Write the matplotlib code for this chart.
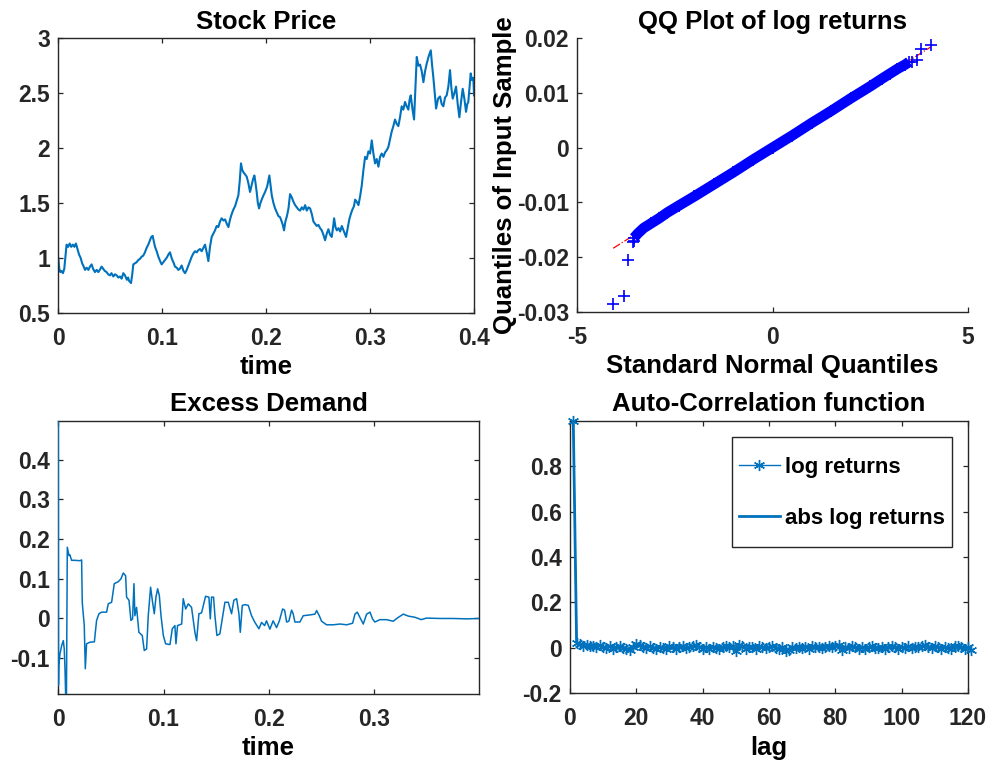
import numpy as np
import matplotlib
matplotlib.use("Agg")
import matplotlib.pyplot as plt
from matplotlib.patches import Rectangle

plt.rcParams['font.family'] = ['Liberation Sans', 'DejaVu Sans']
plt.rcParams['font.weight'] = 'bold'
plt.rcParams['axes.unicode_minus'] = False

# ---------------- data ----------------
stock_t = [0.0000, 0.0010, 0.0020, 0.0032, 0.0045, 0.0058, 0.0070, 0.0080, 0.0095, 0.0110,
           0.0125, 0.0140, 0.0155, 0.0170, 0.0185, 0.0200, 0.0215, 0.0230, 0.0245, 0.0258,
           0.0273, 0.0290, 0.0305, 0.0321, 0.0335, 0.0353, 0.0370, 0.0385, 0.0400, 0.0417,
           0.0432, 0.0448, 0.0465, 0.0480, 0.0497, 0.0512, 0.0530, 0.0546, 0.0562, 0.0578,
           0.0594, 0.0610, 0.0626, 0.0642, 0.0660, 0.0672, 0.0681, 0.0700, 0.0712, 0.0722,
           0.0738, 0.0754, 0.0770, 0.0786, 0.0802, 0.0818, 0.0834, 0.0850, 0.0866, 0.0883,
           0.0895, 0.0908, 0.0920, 0.0931, 0.0947, 0.0963, 0.0980, 0.0995, 0.1011, 0.1027,
           0.1043, 0.1060, 0.1075, 0.1090, 0.1098, 0.1112, 0.1123, 0.1140, 0.1155, 0.1170,
           0.1187, 0.1205, 0.1220, 0.1236, 0.1252, 0.1268, 0.1284, 0.1300, 0.1316, 0.1332,
           0.1348, 0.1364, 0.1380, 0.1396, 0.1412, 0.1428, 0.1444, 0.1460, 0.1476, 0.1492,
           0.1508, 0.1524, 0.1540, 0.1556, 0.1572, 0.1589, 0.1605, 0.1621, 0.1637, 0.1653,
           0.1669, 0.1685, 0.1701, 0.1717, 0.1733, 0.1746, 0.1758, 0.1770, 0.1781, 0.1797,
           0.1813, 0.1829, 0.1845, 0.1860, 0.1875, 0.1887, 0.1898, 0.1909, 0.1920, 0.1932,
           0.1945, 0.1957, 0.1970, 0.1990, 0.2010, 0.2031, 0.2043, 0.2054, 0.2070, 0.2086,
           0.2100, 0.2118, 0.2134, 0.2150, 0.2160, 0.2172, 0.2185, 0.2200, 0.2215, 0.2230,
           0.2247, 0.2263, 0.2279, 0.2295, 0.2311, 0.2327, 0.2343, 0.2359, 0.2375, 0.2391,
           0.2407, 0.2423, 0.2439, 0.2455, 0.2471, 0.2487, 0.2503, 0.2519, 0.2535, 0.2551,
           0.2567, 0.2583, 0.2599, 0.2615, 0.2631, 0.2643, 0.2654, 0.2667, 0.2680, 0.2696,
           0.2712, 0.2728, 0.2744, 0.2756, 0.2769, 0.2785, 0.2800, 0.2815, 0.2830, 0.2845,
           0.2856, 0.2872, 0.2888, 0.2904, 0.2920, 0.2936, 0.2952, 0.2968, 0.2984, 0.3000,
           0.3016, 0.3032, 0.3048, 0.3064, 0.3080, 0.3096, 0.3112, 0.3128, 0.3144, 0.3160,
           0.3176, 0.3192, 0.3208, 0.3224, 0.3240, 0.3256, 0.3272, 0.3288, 0.3304, 0.3320,
           0.3336, 0.3352, 0.3368, 0.3380, 0.3391, 0.3407, 0.3423, 0.3436, 0.3449, 0.3465,
           0.3481, 0.3497, 0.3513, 0.3529, 0.3545, 0.3565, 0.3584, 0.3597, 0.3609, 0.3622,
           0.3635, 0.3654, 0.3673, 0.3689, 0.3705, 0.3721, 0.3737, 0.3753, 0.3769, 0.3782,
           0.3795, 0.3811, 0.3827, 0.3843, 0.3859, 0.3875, 0.3891, 0.3907, 0.3923, 0.3935,
           0.3945, 0.3956, 0.3968, 0.3980, 0.3993, 0.4000]
stock_p = [1.00, 0.90, 0.87, 0.88, 0.86, 0.90, 1.02, 1.12, 1.10, 1.13,
           1.10, 1.12, 1.10, 1.13, 1.08, 1.03, 1.00, 0.95, 0.92, 0.89,
           0.91, 0.89, 0.92, 0.94, 0.90, 0.87, 0.89, 0.87, 0.89, 0.92,
           0.90, 0.88, 0.87, 0.85, 0.84, 0.86, 0.83, 0.85, 0.84, 0.82,
           0.83, 0.81, 0.86, 0.84, 0.80, 0.82, 0.79, 0.77, 0.85, 0.94,
           0.95, 0.96, 0.98, 0.99, 1.01, 1.02, 1.05, 1.09, 1.12, 1.16,
           1.19, 1.20, 1.15, 1.10, 1.06, 1.01, 0.97, 0.94, 0.96, 0.98,
           1.00, 1.03, 1.05, 1.00, 0.98, 0.95, 0.92, 0.91, 0.89, 0.90,
           0.93, 0.88, 0.86, 0.89, 0.93, 0.97, 1.01, 1.04, 1.06, 1.05,
           1.07, 1.08, 1.06, 1.09, 1.12, 1.05, 0.97, 1.10, 1.19, 1.22,
           1.25, 1.29, 1.28, 1.33, 1.36, 1.34, 1.35, 1.31, 1.28, 1.35,
           1.40, 1.44, 1.47, 1.52, 1.57, 1.70, 1.86, 1.80, 1.78, 1.76,
           1.74, 1.68, 1.60, 1.66, 1.72, 1.75, 1.68, 1.60, 1.50, 1.45,
           1.50, 1.53, 1.56, 1.60, 1.65, 1.75, 1.66, 1.57, 1.50, 1.45,
           1.42, 1.38, 1.37, 1.33, 1.30, 1.25, 1.33, 1.38, 1.45, 1.58,
           1.55, 1.51, 1.48, 1.46, 1.44, 1.43, 1.46, 1.44, 1.48, 1.43,
           1.46, 1.45, 1.40, 1.33, 1.31, 1.29, 1.30, 1.27, 1.25, 1.21,
           1.16, 1.22, 1.26, 1.21, 1.19, 1.27, 1.36, 1.28, 1.25, 1.27,
           1.24, 1.29, 1.25, 1.22, 1.19, 1.27, 1.35, 1.40, 1.44, 1.47,
           1.53, 1.51, 1.48, 1.56, 1.66, 1.80, 1.92, 1.90, 1.97, 1.95,
           2.07, 1.95, 1.86, 1.90, 1.83, 1.92, 1.95, 1.92, 1.96, 1.98,
           2.01, 2.08, 2.15, 2.20, 2.26, 2.22, 2.20, 2.28, 2.38, 2.35,
           2.42, 2.38, 2.35, 2.44, 2.48, 2.36, 2.26, 2.55, 2.83, 2.75,
           2.76, 2.70, 2.60, 2.70, 2.77, 2.84, 2.89, 2.75, 2.64, 2.50,
           2.36, 2.45, 2.47, 2.40, 2.38, 2.46, 2.48, 2.56, 2.71, 2.55,
           2.45, 2.50, 2.56, 2.40, 2.28, 2.42, 2.54, 2.45, 2.33, 2.40,
           2.42, 2.55, 2.68, 2.62, 2.64, 2.48]

qq_band_x = [-3.55, -3.45, -3.30, -3.10, -2.90, -2.70, -2.40, -2.00, -1.50, -1.00,
             -0.50, 0.00, 0.50, 1.00, 1.50, 2.00, 2.50, 2.80, 3.00, 3.20, 3.40, 3.50]
qq_band_y = [-0.0165, -0.0157, -0.0147, -0.0138, -0.0129, -0.0119, -0.0106, -0.0089, -0.0067, -0.0045,
             -0.0022, 0.0000, 0.0022, 0.0045, 0.0067, 0.0090, 0.0112, 0.0126, 0.0135, 0.0144, 0.0152, 0.0157]
qq_tail_x = [-4.08, -3.81, -3.70, -3.58, -3.55, 3.57, 3.69, 3.81, 4.05]
qq_tail_y = [-0.0286, -0.0272, -0.0206, -0.0173, -0.0170, 0.0157, 0.0161, 0.0180, 0.0188]
qq_ref_x = [-4.08, 4.05]
qq_ref_y = [-0.0184, 0.0184]

ed_t = [0.0000, 0.0002, 0.0005, 0.0016, 0.0032, 0.0048, 0.0057, 0.0064, 0.0070, 0.0078,
        0.0086, 0.0102, 0.0110, 0.0127, 0.0159, 0.0206, 0.0222, 0.0228, 0.0247, 0.0257,
        0.0269, 0.0301, 0.0343, 0.0364, 0.0387, 0.0412, 0.0459, 0.0475, 0.0507, 0.0532,
        0.0570, 0.0595, 0.0618, 0.0640, 0.0649, 0.0672, 0.0690, 0.0706, 0.0719, 0.0728,
        0.0744, 0.0766, 0.0798, 0.0817, 0.0839, 0.0855, 0.0877, 0.0896, 0.0912, 0.0928,
        0.0944, 0.0960, 0.0976, 0.0998, 0.1020, 0.1061, 0.1083, 0.1108, 0.1118, 0.1133,
        0.1172, 0.1187, 0.1210, 0.1235, 0.1266, 0.1298, 0.1314, 0.1336, 0.1361, 0.1399,
        0.1431, 0.1444, 0.1456, 0.1475, 0.1488, 0.1507, 0.1535, 0.1558, 0.1583, 0.1615,
        0.1646, 0.1668, 0.1694, 0.1716, 0.1729, 0.1748, 0.1773, 0.1805, 0.1836, 0.1868,
        0.1906, 0.1931, 0.1960, 0.1978, 0.2010, 0.2041, 0.2074, 0.2100, 0.2131, 0.2150,
        0.2169, 0.2190, 0.2216, 0.2230, 0.2248, 0.2295, 0.2327, 0.2390, 0.2438, 0.2454,
        0.2479, 0.2501, 0.2549, 0.2612, 0.2676, 0.2739, 0.2796, 0.2818, 0.2840, 0.2865,
        0.2897, 0.2929, 0.2961, 0.2985, 0.3007, 0.3055, 0.3118, 0.3182, 0.3220, 0.3277,
        0.3325, 0.3388, 0.3430, 0.3445, 0.3498, 0.3625, 0.3752, 0.3879, 0.3996]
ed_v = [0.499, -0.170, -0.120, -0.091, -0.070, -0.057, -0.078, -0.128, -0.192, -0.192,
        0.179, 0.158, 0.160, 0.146, 0.146, 0.145, 0.147, 0.040, -0.019, -0.128,
        -0.065, -0.061, -0.060, -0.006, 0.011, 0.015, 0.015, 0.036, 0.040, 0.087,
        0.092, 0.099, 0.114, 0.107, 0.053, 0.045, -0.006, -0.002, 0.087, 0.006,
        0.027, -0.036, -0.044, -0.082, -0.078, 0.006, 0.078, 0.040, 0.011, 0.053,
        0.074, 0.057, 0.006, -0.044, -0.065, -0.067, -0.027, -0.019, -0.065, -0.019,
        -0.015, 0.049, 0.023, 0.036, 0.027, -0.036, -0.057, 0.011, 0.013, 0.055,
        0.053, -0.002, 0.053, 0.053, 0.006, -0.044, -0.040, -0.002, 0.040, 0.040,
        0.011, 0.045, 0.049, 0.011, -0.036, 0.032, 0.034, 0.032, 0.006, -0.011,
        -0.027, -0.011, -0.019, -0.007, -0.028, -0.007, -0.024, -0.007, 0.023, 0.020,
        -0.010, -0.008, 0.020, 0.012, -0.010, -0.010, 0.006, 0.008, 0.010, 0.019,
        0.006, -0.008, -0.017, -0.017, -0.015, -0.017, -0.013, 0.010, 0.015, 0.002,
        -0.015, 0.010, 0.015, -0.002, -0.010, -0.004, -0.004, -0.008, 0.000, 0.010,
        0.005, 0.002, -0.002, -0.004, 0.000, -0.001, -0.001, -0.002, -0.001]

acf_log = [1.0, 0.020, 0.015, 0.010, 0.012, 0.008, 0.010, 0.005, 0.012, 0.004,
           0.000, 0.006, -0.004, 0.003, 0.008, 0.001, -0.006, -0.010, 0.004, 0.015,
           0.012, 0.005, -0.002, 0.008, 0.000, -0.005, 0.004, 0.001, -0.003, 0.006,
           0.002, -0.004, 0.003, 0.007, -0.002, 0.004, 0.009, 0.012, 0.003, -0.005,
           0.002, -0.006, 0.004, 0.001, -0.004, 0.005, 0.008, 0.003, 0.006, -0.012,
           0.012, 0.006, -0.003, 0.005, 0.002, -0.004, 0.008, 0.003, -0.002, 0.004,
           0.007, 0.001, -0.006, 0.002, -0.012, -0.008, 0.003, -0.002, 0.005, 0.001,
           0.004, -0.003, 0.006, 0.002, 0.005, -0.002, 0.004, 0.007, 0.003, 0.010,
           0.012, -0.010, 0.005, -0.002, 0.008, 0.004, -0.003, 0.002, -0.004, 0.003,
           0.006, -0.002, 0.001, 0.004, -0.003, 0.005, 0.008, 0.002, -0.004, 0.003,
           0.001, 0.006, -0.002, 0.004, 0.003, 0.009, 0.012, 0.004, -0.002, 0.006,
           0.002, -0.004, 0.003, 0.001, -0.005, 0.006, 0.008, 0.002, -0.003, 0.004,
           -0.010]
acf_abs = [1.0, 0.025, 0.012, 0.008, 0.014, 0.006, 0.011, 0.002, 0.009, 0.005,
           -0.002, 0.007, 0.001, -0.003, 0.006, 0.003, -0.004, -0.008, 0.006, 0.012,
           0.016, 0.008, 0.001, 0.005, -0.003, 0.002, 0.006, -0.001, 0.003, 0.005,
           -0.002, 0.001, 0.006, 0.002, -0.003, 0.005, 0.007, 0.010, 0.005, -0.002,
           0.004, -0.003, 0.001, 0.005, -0.002, 0.003, 0.006, 0.001, 0.008, -0.008,
           0.010, 0.008, -0.001, 0.003, 0.005, -0.002, 0.006, 0.001, 0.001, 0.002,
           0.005, 0.003, -0.004, -0.001, -0.009, -0.005, 0.002, 0.001, 0.003, -0.002,
           0.006, 0.000, 0.004, 0.004, 0.002, 0.001, 0.006, 0.005, 0.006, 0.008,
           0.010, -0.006, 0.003, 0.001, 0.006, 0.002, -0.001, 0.004, -0.002, 0.001,
           0.004, 0.001, -0.002, 0.006, -0.001, 0.003, 0.006, 0.004, -0.002, 0.001,
           0.003, 0.004, 0.000, 0.006, 0.002, 0.007, 0.010, 0.006, 0.000, 0.004,
           0.004, -0.002, 0.001, 0.003, -0.003, 0.004, 0.006, 0.004, -0.001, 0.002,
           -0.008]

stock_xticks = [0, 0.1, 0.2, 0.3, 0.4]
stock_xticklabels = ['0', '0.1', '0.2', '0.3', '0.4']
stock_yticks = [0.5, 1, 1.5, 2, 2.5, 3]
stock_yticklabels = ['0.5', '1', '1.5', '2', '2.5', '3']
qq_xticks = [-5, 0, 5]
qq_xticklabels = ['-5', '0', '5']
qq_yticks = [-0.03, -0.02, -0.01, 0, 0.01, 0.02]
qq_yticklabels = ['-0.03', '-0.02', '-0.01', '0', '0.01', '0.02']
ed_xticks = [0, 0.1, 0.2, 0.3]
ed_xticklabels = ['0', '0.1', '0.2', '0.3']
ed_yticks = [-0.1, 0, 0.1, 0.2, 0.3, 0.4]
ed_yticklabels = ['-0.1', '0', '0.1', '0.2', '0.3', '0.4']
acf_xticks = [0, 20, 40, 60, 80, 100, 120]
acf_xticklabels = ['0', '20', '40', '60', '80', '100', '120']
acf_yticks = [-0.2, 0, 0.2, 0.4, 0.6, 0.8]
acf_yticklabels = ['-0.2', '0', '0.2', '0.4', '0.6', '0.8']

# ---------------- styling ----------------
BLUE = '#0072BD'
DARK = '#262626'
TICK_FS = 16.5
LABEL_FS = 18.5
TITLE_FS = 18.5
ASTERISK = (6, 2, 0)

fig = plt.figure(figsize=(9.89, 7.61), dpi=100)


def style(ax, box=True):
    for s in ax.spines.values():
        s.set_color(DARK)
        s.set_linewidth(1.0)
    if not box:
        ax.spines['top'].set_visible(False)
        ax.spines['right'].set_visible(False)
    ax.tick_params(direction='in', length=3.5, width=0.9, colors=DARK,
                   labelsize=TICK_FS, top=box, right=box)
    ax.tick_params(axis='x', pad=10)
    ax.tick_params(axis='y', pad=6)
    for lab in ax.get_xticklabels() + ax.get_yticklabels():
        lab.set_fontweight('bold')


# Stock price
ax1 = fig.add_axes([0.0589, 0.5891, 0.4204, 0.3606])
ax1.plot(stock_t, stock_p, color=BLUE, lw=1.5)
ax1.set_xlim(0, 0.4)
ax1.set_ylim(0.5, 3)
ax1.set_xticks(stock_xticks)
ax1.set_xticklabels(stock_xticklabels)
ax1.set_yticks(stock_yticks)
ax1.set_yticklabels(stock_yticklabels)
ax1.set_title('Stock Price', fontsize=TITLE_FS, fontweight='bold', pad=7)
ax1.set_xlabel('time', fontsize=LABEL_FS, fontweight='bold', labelpad=4)
style(ax1)

# QQ plot
ax2 = fig.add_axes([0.5837, 0.5904, 0.3948, 0.3593])
ax2.plot(qq_ref_x, qq_ref_y, color='#FF0000', lw=0.9, ls='-.', zorder=1)
ax2.plot(qq_band_x, qq_band_y, color='#0000FF', lw=7.5, solid_capstyle='butt', zorder=2)
ax2.plot(qq_band_x, qq_band_y, color='#0000FF', lw=0, marker='+', ms=9, mew=1.2, zorder=2)
ax2.plot(qq_tail_x, qq_tail_y, color='#0000FF', lw=0, marker='+', ms=9, mew=1.2, zorder=3,
         clip_on=False)
ax2.set_xlim(-5, 5)
ax2.set_ylim(-0.03, 0.02)
ax2.set_xticks(qq_xticks)
ax2.set_xticklabels(qq_xticklabels)
ax2.set_yticks(qq_yticks)
ax2.set_yticklabels(qq_yticklabels)
ax2.set_title('QQ Plot of log returns', fontsize=TITLE_FS, fontweight='bold', pad=7)
ax2.set_xlabel('Standard Normal Quantiles', fontsize=LABEL_FS, fontweight='bold', labelpad=4)
ax2.set_ylabel('Quantiles of Input Sample', fontsize=LABEL_FS, fontweight='bold', labelpad=0)
style(ax2, box=False)

# Excess demand
ax3 = fig.add_axes([0.0589, 0.0880, 0.4254, 0.3592])
ax3.plot(ed_t, ed_v, color=BLUE, lw=1.1, zorder=3)
ax3.set_xlim(0, 0.3996)
ax3.set_ylim(-0.192, 0.499)
ax3.set_xticks(ed_xticks)
ax3.set_xticklabels(ed_xticklabels)
ax3.set_yticks(ed_yticks)
ax3.set_yticklabels(ed_yticklabels)
ax3.set_title('Excess Demand', fontsize=TITLE_FS, fontweight='bold', pad=7)
ax3.set_xlabel('time', fontsize=LABEL_FS, fontweight='bold', labelpad=4)
style(ax3)

# Auto-correlation
ax4 = fig.add_axes([0.5763, 0.0890, 0.4025, 0.3582])
lags_log = np.arange(1, len(acf_log) + 1)
lags_abs = np.arange(1, len(acf_abs) + 1)
ax4.plot(lags_log, acf_log, color=BLUE, lw=1.0, marker=ASTERISK, ms=8, mew=1.0,
         label='log returns', clip_on=False, zorder=3)
ax4.plot(lags_abs, acf_abs, color=BLUE, lw=2.0, label='abs log returns', zorder=2)
ax4.set_xlim(0, 120)
ax4.set_ylim(-0.2, 1.0)
ax4.set_xticks(acf_xticks)
ax4.set_xticklabels(acf_xticklabels)
ax4.set_yticks(acf_yticks)
ax4.set_yticklabels(acf_yticklabels)
ax4.set_title('Auto-Correlation function', fontsize=TITLE_FS, fontweight='bold', pad=7)
ax4.set_xlabel('lag', fontsize=LABEL_FS, fontweight='bold', labelpad=4)
style(ax4)
ax4.add_patch(Rectangle((0.4063, 0.5377), 0.5535, 0.4035, transform=ax4.transAxes,
                        facecolor='white', edgecolor=DARK, lw=1.0, zorder=4))
leg = ax4.legend(loc='center', bbox_to_anchor=(0.683, 0.7347), frameon=False,
                 prop={'size': 16, 'weight': 'bold'},
                 handlelength=1.85, handletextpad=0.25, labelspacing=1.35,
                 borderpad=0.2, borderaxespad=0, numpoints=1)
leg.set_zorder(5)

fig.savefig('out.png', dpi=100)
